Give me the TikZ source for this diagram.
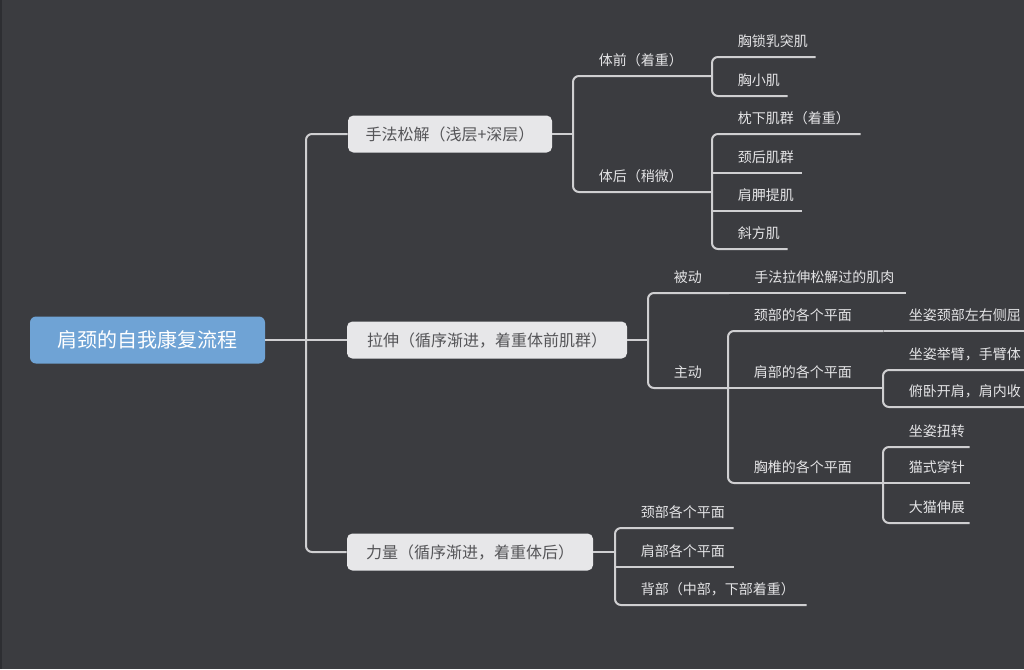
\documentclass[tikz,border=0pt]{standalone}
\usepackage{fontspec}
\setmainfont{Noto Sans CJK SC}
\usetikzlibrary{calc}
\newdimen\pxu \pxu=0.75pt
\definecolor{bg}{HTML}{3B3C40}
\definecolor{edgestrip}{HTML}{2D2E32}
\definecolor{lncol}{HTML}{CFCFD1}
\definecolor{leaf}{HTML}{E4E4E6}
\definecolor{boxfill}{HTML}{E7E7E9}
\definecolor{boxtext}{HTML}{555558}
\definecolor{rootfill}{HTML}{6FA3D5}
\newcommand\lbl[2]{\makebox[#1\pxu][l]{\hspace*{25.5\pxu}#2}}
\begin{document}
\begin{tikzpicture}[x=0.75pt,y=-0.75pt,
  link/.style={draw=lncol, line width=1.5pt, rounded corners=4.5pt},
  tx/.style={anchor=south west, inner sep=0pt, text height=9pt, text depth=7.5pt,
    font=\fontsize{10.5pt}{12pt}\selectfont, text=leaf},
  lvone/.style={fill=boxfill, rounded corners=4pt, text=boxtext,
    font=\fontsize{12pt}{14pt}\selectfont, inner sep=0pt, minimum height=27.75pt},
  rootbox/.style={fill=rootfill, rounded corners=4.5pt, text=white,
    font=\fontsize{15pt}{18pt}\selectfont, inner sep=0pt,
    minimum width=176.25pt, minimum height=35.25pt}]
\useasboundingbox (0,0) rectangle (1024,669);
\clip (0,0) rectangle (1024,669);
\fill[bg] (0,0) rectangle (1024,669);
\fill[edgestrip] (0,0) rectangle (2,669);

% root and level one
\node[rootbox] (root) at (147.5,340) {肩颈的自我康复流程};
\node[lvone, minimum width=153pt] (b1) at (450,134) {手法松解（浅层+深层）};
\node[lvone, minimum width=210pt] (b2) at (487,340) {拉伸（循序渐进，着重体前肌群）};
\node[lvone, minimum width=184.5pt] (b3) at (470,552) {力量（循序渐进，着重体后）};
\coordinate (trunk) at (306,340);
\draw[link] (b1.west) -- (b1.west -| trunk) -- (b3.west -| trunk) -- (b3.west);
\draw[link] (root.east) -- (b2.west);

% branch 1
\node[tx] (qian) at (573,76) {\lbl{139}{体前（着重）}};
\node[tx] (hou) at (573,192) {\lbl{139}{体后（稍微）}};
\draw[link] (qian.south east) -- (qian.south west) -- (hou.south west) -- (hou.south east);
\draw[link] (b1.east) -- (b1.east -| qian.south west);

\node[tx] (xs) at (712,57) {\lbl{103}{胸锁乳突肌}};
\node[tx] (xx) at (712,96) {\lbl{75}{胸小肌}};
\draw[link] (xs.south east) -- (xs.south west) -- (xx.south west) -- (xx.south east);

\node[tx] (zx) at (712,134) {\lbl{148}{枕下肌群（着重）}};
\node[tx] (jh) at (712,173) {\lbl{89}{颈后肌群}};
\node[tx] (jj) at (712,211) {\lbl{89}{肩胛提肌}};
\node[tx] (xf) at (712,249) {\lbl{75}{斜方肌}};
\draw[link] (zx.south east) -- (zx.south west) -- (xf.south west) -- (xf.south east);
\draw[link] (jh.south west) -- (jh.south east);
\draw[link] (jj.south west) -- (jj.south east);

% branch 2
\node[tx] (bd) at (648,293) {\lbl{80.5}{被动}};
\node[tx] (zd) at (648,388) {\lbl{80}{主动}};
\draw[link] (bd.south east) -- (bd.south west) -- (zd.south west) -- (zd.south east);
\draw[link] (b2.east) -- (b2.east -| bd.south west);
\node[tx] (sl) at (728.5,293) {\lbl{176.5}{手法拉伸松解过的肌肉}};
\draw[link] (bd.south east) -- (sl.south east);

\node[tx] (jb) at (728,331) {\lbl{155}{颈部的各个平面}};
\node[tx] (jbu) at (728,388) {\lbl{155}{肩部的各个平面}};
\node[tx] (xz) at (728,483) {\lbl{155}{胸椎的各个平面}};
\draw[link] (jb.south east) -- (jb.south west) -- (xz.south west) -- (xz.south east);
\draw[link] (jbu.south west) -- (jbu.south east);

\node[tx] (cz) at (883,331) {\lbl{160}{坐姿颈部左右侧屈}};
\draw[link] (jb.south east) -- (cz.south east);

\node[tx] (ja) at (883,370) {\lbl{160}{坐姿举臂，手臂体}};
\node[tx] (jc) at (883,407) {\lbl{160}{俯卧开肩，肩内收}};
\draw[link] (ja.south east) -- (ja.south west) -- (jc.south west) -- (jc.south east);

\node[tx] (c1) at (883,447) {\lbl{86}{坐姿扭转}};
\node[tx] (c2) at (883,483) {\lbl{86}{猫式穿针}};
\node[tx] (c3) at (883,523) {\lbl{86}{大猫伸展}};
\draw[link] (c1.south east) -- (c1.south west) -- (c3.south west) -- (c3.south east);
\draw[link] (c2.south west) -- (c2.south east);

% branch 3
\node[tx] (d1) at (615,528) {\lbl{118}{颈部各个平面}};
\node[tx] (d2) at (615,567) {\lbl{118}{肩部各个平面}};
\node[tx] (d3) at (615,605) {\lbl{191}{背部（中部，下部着重）}};
\draw[link] (d1.south east) -- (d1.south west) -- (d3.south west) -- (d3.south east);
\draw[link] (d2.south west) -- (d2.south east);
\draw[link] (b3.east) -- (b3.east -| d1.south west);
\end{tikzpicture}
\end{document}
